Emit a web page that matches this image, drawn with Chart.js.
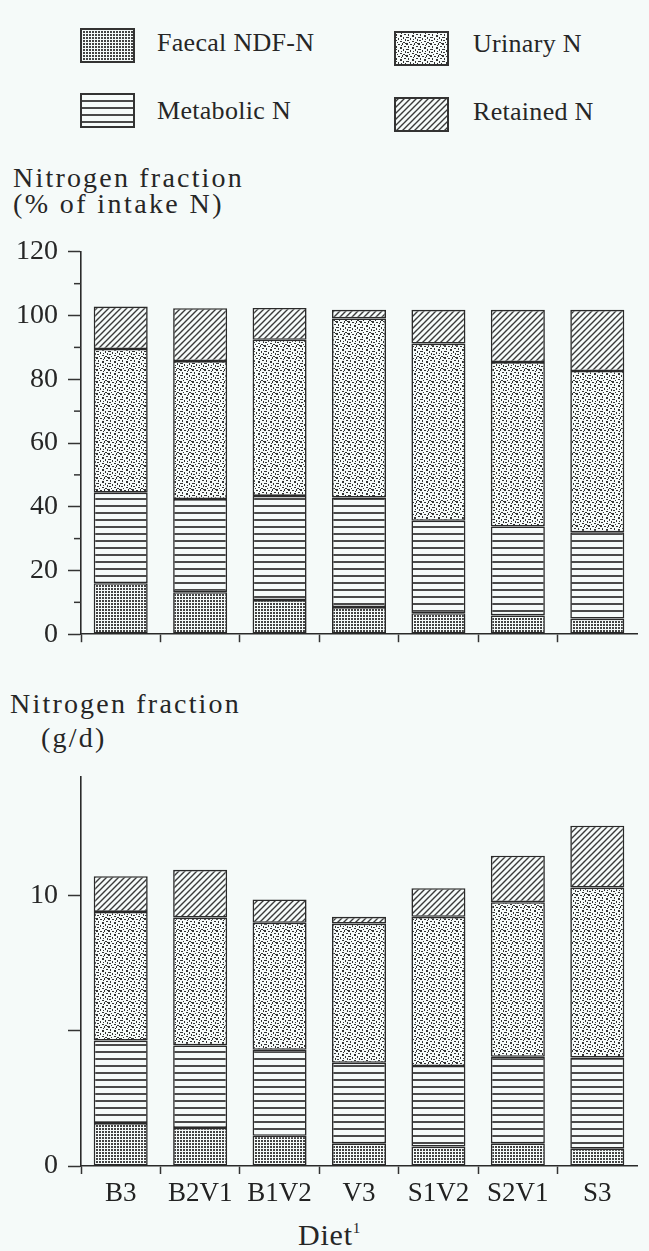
<!DOCTYPE html>
<html><head><meta charset="utf-8">
<script src="https://cdn.jsdelivr.net/npm/chart.js@4.4.0/dist/chart.umd.min.js"></script>
<style>
html,body{margin:0;padding:0;background:#f5faf9;}
body{width:649px;height:1251px;position:relative;overflow:hidden;font-family:'Liberation Serif','Times New Roman',serif;color:#262626;}
.t{position:absolute;white-space:nowrap;line-height:1;}
canvas.c{position:absolute;left:0;}
</style></head><body>
<div id="legend"></div>
<div id="titles"></div>
<canvas class="c" id="top" width="649" height="436" style="top:225px"></canvas>
<canvas class="c" id="bot" width="649" height="471" style="top:750px"></canvas>
<script>
// ---- data ----
const diets = ['B3','B2V1','B1V2','V3','S1V2','S2V1','S3'];
const seriesNames = ['Faecal NDF-N','Metabolic N','Urinary N','Retained N'];
// % of intake N
const faecalPct    = [16.0,13.2,10.7, 8.5, 6.6, 5.9, 4.9];
const metabolicPct = [28.4,29.2,32.7,34.4,29.0,27.9,27.1];
const urinaryPct   = [45.1,43.3,49.0,56.2,55.6,51.6,50.6];
const retainedPct  = [13.3,16.6,10.0, 2.7,10.6,16.4,19.2];
// g/d
const faecalG    = [1.59,1.41,1.12,0.84,0.72,0.84,0.64];
const metabolicG = [3.05,3.05,3.18,2.98,2.98,3.20,3.37];
const urinaryG   = [4.76,4.73,4.70,5.15,5.52,5.72,6.29];
const retainedG  = [1.32,1.77,0.86,0.25,1.06,1.72,2.29];
// axes
const yTicksPct = [0,20,40,60,80,100,120];
const yTickLabelsPct = ['0','20','40','60','80','100','120'];
const yMinorPct = [10,30,50,70,90,110];
const yMaxPct = 120;
const yTicksG = [0,5,10];
const yTickLabelsG = ['0','','10'];
const yMaxG = 14.4;
const titleTop = ['Nitrogen fraction','(% of intake N)'];
const titleBot = ['Nitrogen fraction','(g/d)'];
const xTitle = 'Diet';
const xTitleSup = '1';

// ---- patterns ----
const BG = '#f6fbfa';
function makePattern(kind){
  const c = document.createElement('canvas'); const g = c.getContext('2d');
  if(kind==='faecal'){
    c.width=3;c.height=3;g.fillStyle=BG;g.fillRect(0,0,3,3);
    g.fillStyle='#444';g.fillRect(0,0,2,2);
  } else if(kind==='metabolic'){
    c.width=4;c.height=7;g.fillStyle=BG;g.fillRect(0,0,4,7);
    g.fillStyle='#4a4a4a';g.fillRect(0,0,4,2);
  } else if(kind==='urinary'){
    c.width=12;c.height=12;g.fillStyle=BG;g.fillRect(0,0,12,12);
    g.fillStyle='#333';
    [[0,0,2,2],[4,1,2,1],[8,0,1,2],[10,3,2,1],[2,3,1,2],[6,4,2,2],[0,6,2,1],[4,7,1,2],
     [9,6,1,2],[11,8,1,2],[1,9,2,1],[6,10,2,1],[9,11,2,1],[3,11,1,1],[7,2,1,1],[11,0,1,1],
     [2,6,1,1],[7,8,1,1]].forEach(r=>g.fillRect(r[0],r[1],r[2],r[3]));
  } else {
    c.width=6;c.height=6;g.fillStyle=BG;g.fillRect(0,0,6,6);
    g.strokeStyle='#3a3a3a';g.lineWidth=1.4;g.beginPath();
    g.moveTo(0,6);g.lineTo(6,0);g.moveTo(-1,1);g.lineTo(1,-1);g.moveTo(5,7);g.lineTo(7,5);g.stroke();
  }
  return {canvas:c, pattern:g.createPattern(c,'repeat')};
}
const patKinds = ['faecal','metabolic','urinary','retained'];
const pats = patKinds.map(makePattern);

// ---- text helpers (HTML) ----
function place(parent, html, left, baseline, size, spacing){
  const d = document.createElement('div'); d.className='t';
  d.style.left = left+'px'; d.style.top = (baseline - 0.8375*size)+'px';
  d.style.fontSize = size+'px'; d.style.height = size+'px';
  if(spacing) d.style.letterSpacing = spacing+'px';
  d.innerHTML = html; parent.appendChild(d); return d;
}
const titles = document.getElementById('titles');
place(titles, titleTop[0], 13, 187, 28, 2.2);
place(titles, titleTop[1], 13, 213, 28, 2.4);
place(titles, titleBot[0], 10, 713, 28, 2.2);
place(titles, titleBot[1], 41, 747, 28, 2.2);
place(titles, xTitle + '<sup style="font-size:15px;vertical-align:12px">' + xTitleSup + '</sup>', 298, 1245, 30, 0.8);

// ---- legend (HTML, from series) ----
const legend = document.getElementById('legend');
const legendPos = {'Faecal NDF-N':[80,28,157,52],'Urinary N':[394,31,473,53],'Metabolic N':[80,93,157,120],'Retained N':[394,97,473,121]};
seriesNames.forEach((name,i)=>{
  const p = legendPos[name];
  const sw = document.createElement('canvas'); sw.width=55; sw.height=35;
  sw.style.position='absolute'; sw.style.left=p[0]+'px'; sw.style.top=p[1]+'px';
  const g = sw.getContext('2d'); g.fillStyle = pats[i].pattern; g.fillRect(0,0,55,35);
  g.strokeStyle='#333'; g.lineWidth=2; g.strokeRect(1,1,53,33);
  legend.appendChild(sw);
  place(legend, name, p[2], p[3], 26, 0.3);
});

// ---- plugin: minor y ticks ----
const minorTicks = {
  id:'minorTicks',
  afterDraw(chart, args, opts){
    if(!opts || !opts.values) return;
    const y = chart.scales.y, ctx = chart.ctx;
    ctx.save(); ctx.strokeStyle='#333'; ctx.lineWidth=1.5;
    opts.values.forEach(v=>{ const py = y.getPixelForValue(v);
      ctx.beginPath(); ctx.moveTo(y.right-7, py); ctx.lineTo(y.right, py); ctx.stroke(); });
    ctx.restore();
  }
};

const FONT = "'Liberation Serif','Times New Roman',serif";
function makeChart(id, series, cfg){
  return new Chart(document.getElementById(id), {
    type:'bar',
    data:{ labels: diets, datasets: seriesNames.map((n,i)=>({
      label:n, data:series[i], backgroundColor:pats[i].pattern, borderColor:'#2a2a2a',
      borderWidth:1.6, borderSkipped:false, barPercentage:0.68, categoryPercentage:1 })) },
    plugins:[minorTicks],
    options:{
      responsive:false, animation:false, devicePixelRatio:1,
      layout:{ padding:{ top:cfg.padTop, right:12, left:0, bottom:0 } },
      plugins:{ legend:{display:false}, tooltip:{enabled:false}, title:{display:false}, minorTicks:{values:cfg.minor} },
      scales:{
        x:{ stacked:true, offset:true,
            grid:{ offset:true, drawOnChartArea:false, drawTicks:true, tickLength:8, tickWidth:1.5,
                   tickColor:(c)=> (c.index===undefined ? 'rgba(0,0,0,0)' : '#333') },
            border:{ color:'#2a2a2a', width:1.6 },
            ticks:{ display:cfg.xLabels, color:'#222', padding:4, font:{family:FONT, size:27} },
            afterFit:(s)=>{ s.height = cfg.xHeight; } },
        y:{ stacked:true, min:0, max:cfg.max,
            afterBuildTicks:(s)=>{ s.ticks = cfg.ticks.map(v=>({value:v})); },
            ticks:{ callback:(v,i)=>cfg.labels[i], color:'#262626', padding:10, font:{family:FONT, size:28} },
            grid:{ drawOnChartArea:false, tickLength:13, tickWidth:1.5, tickColor:'#333' },
            border:{ color:'#2a2a2a', width:1.6 },
            afterFit:(s)=>{ s.width = 81; } }
      }
    }
  });
}

makeChart('top', [faecalPct, metabolicPct, urinaryPct, retainedPct],
  { padTop:20, max:yMaxPct, ticks:yTicksPct, labels:yTickLabelsPct, minor:yMinorPct, xLabels:false, xHeight:20 });
makeChart('bot', [faecalG, metabolicG, urinaryG, retainedG],
  { padTop:17, max:yMaxG, ticks:yTicksG, labels:yTickLabelsG, minor:null, xLabels:true, xHeight:55 });
</script>
</body></html>
